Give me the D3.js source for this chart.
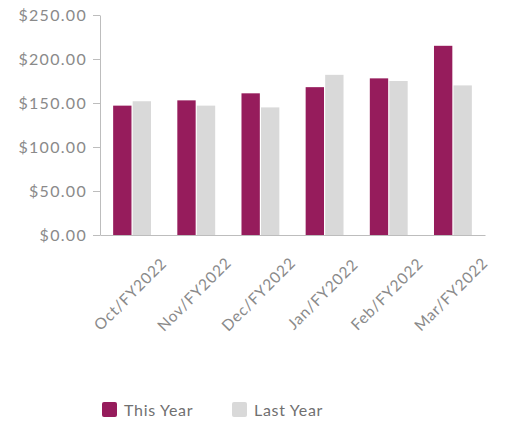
<!DOCTYPE html>
<html>
<head>
<meta charset="utf-8">
<script src="https://cdn.jsdelivr.net/npm/d3@7"></script>
<style>
  html, body { margin: 0; padding: 0; background: #fff; }
  svg { display: block; font-family: Lato, "Open Sans", sans-serif; }
</style>
</head>
<body>
<svg id="chart" width="506" height="423"></svg>
<script>
// Monthly values, current fiscal year vs. prior year
const months = ["Oct/FY2022", "Nov/FY2022", "Dec/FY2022", "Jan/FY2022", "Feb/FY2022", "Mar/FY2022"];
const thisYear = [147, 153, 161, 168, 178, 215];
const lastYear = [152, 147, 145, 182, 175, 170];
const seriesNames = ["This Year", "Last Year"];
const seriesColors = ["#961c5c", "#d9d9d9"];
const yTicks = [0, 50, 100, 150, 200, 250];

const svg = d3.select("#chart");
const margin = { left: 100, right: 21, top: 15, bottom: 188 };
const W = 506, H = 423;
const plotBottom = H - margin.bottom;

const x0 = d3.scaleBand()
  .domain(months)
  .range([margin.left, W - margin.right])
  .paddingInner(0.41)
  .paddingOuter(0.205);

const x1 = d3.scaleBand()
  .domain(seriesNames)
  .range([0, x0.bandwidth()])
  .paddingInner(0.06);

const y = d3.scaleLinear()
  .domain([0, 250])
  .range([plotBottom, margin.top]);

const rows = months.map((m, i) => ({ month: m, values: [thisYear[i], lastYear[i]] }));

// bars
const groups = svg.append("g").selectAll("g")
  .data(rows)
  .join("g")
  .attr("transform", d => `translate(${x0(d.month)},0)`);

groups.selectAll("rect")
  .data(d => d.values.map((v, k) => ({ name: seriesNames[k], value: v, k })))
  .join("rect")
  .attr("x", d => x1(d.name))
  .attr("y", d => y(d.value))
  .attr("width", x1.bandwidth())
  .attr("height", d => plotBottom - y(d.value))
  .attr("fill", d => seriesColors[d.k]);

// y axis
const fmt = d3.format("$,.2f");
const yAxis = svg.append("g")
  .attr("transform", `translate(${margin.left},0)`)
  .call(d3.axisLeft(y).tickValues(yTicks).tickFormat(fmt).tickSize(7).tickPadding(6).tickSizeOuter(0));
yAxis.select(".domain").attr("stroke", "#bdbdbd");
yAxis.selectAll(".tick line").attr("stroke", "#bdbdbd");
yAxis.selectAll(".tick text")
  .attr("fill", "#8a8a8a")
  .style("font-family", "Lato, sans-serif")
  .style("font-size", "16px")
  .style("letter-spacing", "1.3px");

// x axis
const xAxis = svg.append("g")
  .attr("transform", `translate(0,${plotBottom})`)
  .call(d3.axisBottom(x0).tickSize(0).tickSizeOuter(0).tickFormat(""));
xAxis.select(".domain").attr("stroke", "#bdbdbd");

svg.append("g").selectAll("text")
  .data(months)
  .join("text")
  .attr("transform", d => `translate(${x0(d) + x0.bandwidth() / 2 + 2},${plotBottom + 63}) rotate(-45)`)
  .attr("text-anchor", "middle")
  .attr("fill", "#8a8a8a")
  .style("font-size", "15.5px")
  .style("letter-spacing", "0.8px")
  .text(d => d);

// legend
const legendX = [102, 232];
const legend = svg.append("g").selectAll("g")
  .data(seriesNames)
  .join("g")
  .attr("transform", (d, i) => `translate(${legendX[i]},402)`);
legend.append("rect")
  .attr("width", 15).attr("height", 15).attr("rx", 2)
  .attr("fill", (d, i) => seriesColors[i]);
legend.append("text")
  .attr("x", 22).attr("y", 13.5)
  .attr("fill", "#707070")
  .style("font-size", "16px")
  .style("letter-spacing", "0.7px")
  .text(d => d);
</script>
</body>
</html>
